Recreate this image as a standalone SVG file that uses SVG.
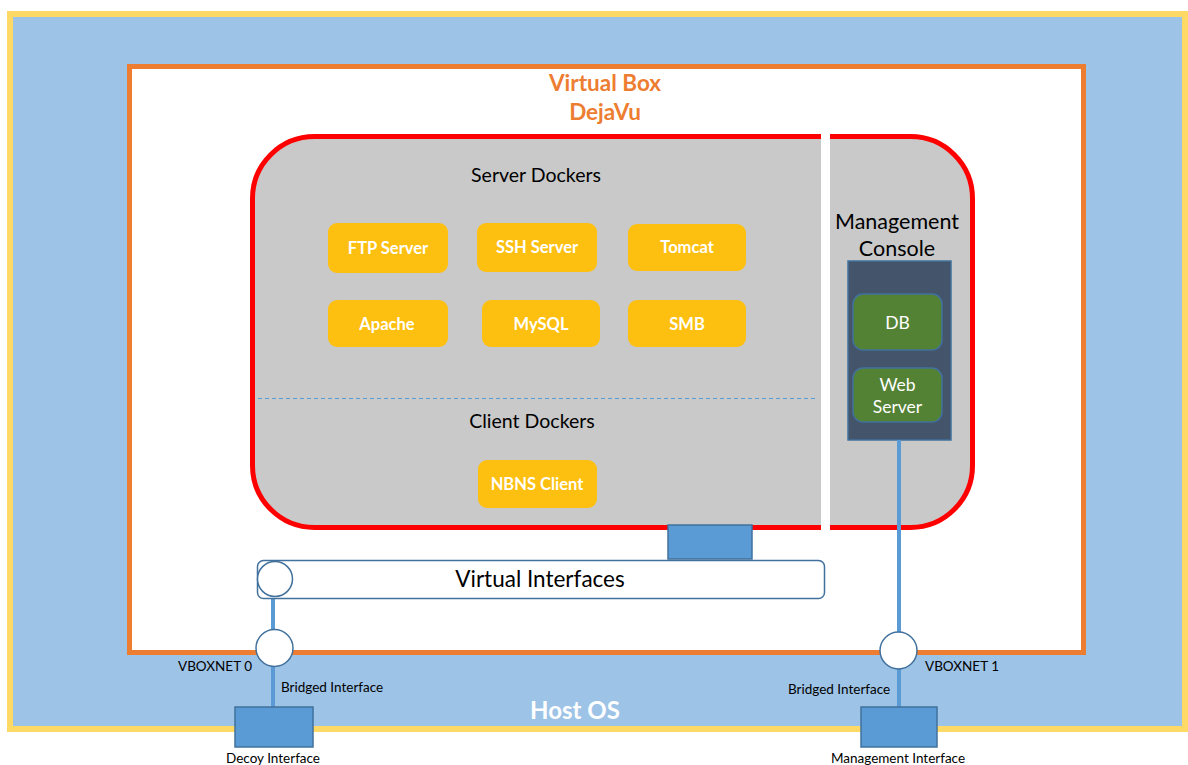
<svg xmlns="http://www.w3.org/2000/svg" width="1188" height="765" viewBox="0 0 1188 765">
<style>
text{font-family:Lato,"Open Sans","Liberation Sans",sans-serif;}
.dock rect{fill:#FEC010;}
.dock text{fill:#fff;font-size:16.5px;font-weight:bold;text-anchor:middle;}
.green rect{fill:#548235;stroke:#41719C;stroke-width:1.5;}
.green text{fill:#fff;font-size:17.5px;text-anchor:middle;}
.port{fill:#fff;stroke:#41719C;stroke-width:1.5;}
.iface{fill:#5B9BD5;stroke:#41719C;stroke-width:1.5;}
.lbl{font-size:13.5px;fill:#000;}
.link{stroke:#5B9BD5;stroke-width:4;fill:none;}
</style>
<rect width="1188" height="765" fill="#fff"/>
<g id="host-os">
<rect x="10" y="14" width="1175" height="715" fill="#9DC3E6" stroke="#FFD966" stroke-width="6"/>
<text x="575" y="719" font-size="24" font-weight="bold" fill="#fff" text-anchor="middle">Host OS</text>
</g>
<g id="virtual-box">
<rect x="129.5" y="66.5" width="954" height="586" fill="#fff" stroke="#ED7D31" stroke-width="5"/>
<text x="605" y="91" font-size="22.5" font-weight="bold" fill="#ED7D31" text-anchor="middle">Virtual Box</text>
<text x="605" y="120" font-size="22.5" font-weight="bold" fill="#ED7D31" text-anchor="middle">DejaVu</text>
</g>
<g id="dejavu-container">
<rect x="252.5" y="136.5" width="720" height="391" rx="62" fill="#C9C9C9" stroke="#FF0000" stroke-width="5"/>
<rect x="821" y="128" width="9" height="406" fill="#fff"/>
<line x1="258" y1="398.5" x2="816" y2="398.5" stroke="#5B9BD5" stroke-width="1.2" stroke-dasharray="4,3"/>
<text x="536" y="182" font-size="19.5" fill="#000" text-anchor="middle">Server Dockers</text>
<text x="532" y="428" font-size="19.5" fill="#000" text-anchor="middle">Client Dockers</text>
</g>
<g id="ftp" class="dock"><rect x="328" y="223" width="120" height="50" rx="9"/><text x="388" y="254">FTP Server</text></g>
<g id="ssh" class="dock"><rect x="477" y="223" width="120" height="49" rx="9"/><text x="537" y="253">SSH Server</text></g>
<g id="tomcat" class="dock"><rect x="628" y="224" width="118" height="47" rx="9"/><text x="687" y="253">Tomcat</text></g>
<g id="apache" class="dock"><rect x="328" y="300" width="120" height="47" rx="9"/><text x="387" y="330">Apache</text></g>
<g id="mysql" class="dock"><rect x="482" y="300" width="118" height="47" rx="9"/><text x="541" y="330">MySQL</text></g>
<g id="smb" class="dock"><rect x="628" y="300" width="118" height="47" rx="9"/><text x="687" y="330">SMB</text></g>
<g id="nbns" class="dock"><rect x="478" y="460" width="119" height="48" rx="9"/><text x="537" y="490">NBNS Client</text></g>
<g id="management-console">
<text x="897" y="229" font-size="21.5" fill="#000" text-anchor="middle">Management</text>
<text x="897" y="256" font-size="21.5" fill="#000" text-anchor="middle">Console</text>
<rect x="848" y="261" width="103" height="179" fill="#44546A" stroke="#41719C" stroke-width="1.5"/>
</g>
<g id="db" class="green"><rect x="853" y="294" width="89" height="56" rx="10"/><text x="897.5" y="329">DB</text></g>
<g id="web-server" class="green"><rect x="853" y="368" width="89" height="54" rx="10"/><text x="897.5" y="391">Web</text><text x="897.5" y="413">Server</text></g>
<g id="connectors">
<line class="link" x1="899" y1="440" x2="899" y2="708"/>
<line class="link" x1="273" y1="598" x2="273" y2="708"/>
</g>
<g id="bridge-box"><rect class="iface" x="668" y="525" width="84" height="34"/></g>
<g id="virtual-interfaces">
<rect x="257.5" y="560.5" width="567" height="38" rx="6" fill="#fff" stroke="#41719C" stroke-width="1.5"/>
<circle class="port" cx="275" cy="579" r="17.5"/>
<text x="540" y="587" font-size="22.5" fill="#000" text-anchor="middle">Virtual Interfaces</text>
</g>
<g id="vboxnet0">
<circle class="port" cx="274.5" cy="648" r="18.5"/>
<text class="lbl" x="178" y="671">VBOXNET 0</text>
<text class="lbl" x="281" y="692">Bridged Interface</text>
</g>
<g id="vboxnet1">
<circle class="port" cx="898.5" cy="650.5" r="18.5"/>
<text class="lbl" x="925" y="671">VBOXNET 1</text>
<text class="lbl" x="788" y="694">Bridged Interface</text>
</g>
<g id="decoy-interface">
<rect class="iface" x="235" y="707" width="78" height="40"/>
<text class="lbl" x="273" y="763" text-anchor="middle">Decoy Interface</text>
</g>
<g id="management-interface">
<rect class="iface" x="861" y="707" width="76" height="40"/>
<text class="lbl" x="898" y="763" text-anchor="middle">Management Interface</text>
</g>
</svg>
